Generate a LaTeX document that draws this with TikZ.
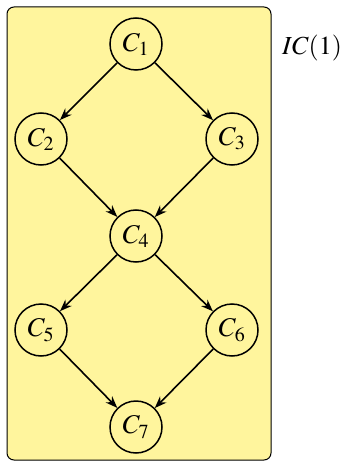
\documentclass[tikz,border=0pt]{standalone}
\usepackage{mathptmx}
\usepackage{xcolor}
\usepackage{tikz}
\usetikzlibrary{arrows.meta}

\definecolor{boxyellow}{HTML}{FFF59D}

\begin{document}
\begin{tikzpicture}[
    cnode/.style={draw, circle, fill=boxyellow, line width=1.5pt,
                  minimum size=52pt, inner sep=0pt,
                  font=\fontsize{27}{32}\selectfont},
    arr/.style={-{Stealth[length=12pt,width=9pt]}, line width=1.6pt},
    x=1pt, y=-1pt
  ]
  \useasboundingbox (0,0) rectangle (349,462);
  % enclosing box
  \draw[fill=boxyellow, rounded corners=7pt, line width=1pt]
    (7,7) rectangle (271,460);
  \node[font=\fontsize{26}{31}\selectfont] (lab) at (312,48) {$IC(1)$};

  % upper diamond
  \node[cnode] (c1) at (136,44) {$C_1$};
  \node[cnode] (c2) at (41,139) {$C_2$};
  \node[cnode] (c3) at (232,139) {$C_3$};
  \node[cnode] (c4) at (136,236) {$C_4$};
  \draw[arr] (c1) -- (c2);
  \draw[arr] (c1) -- (c3);
  \draw[arr] (c2) -- (c4);
  \draw[arr] (c3) -- (c4);

  % lower diamond
  \node[cnode] (c5) at (41,330) {$C_5$};
  \node[cnode] (c6) at (232,330) {$C_6$};
  \node[cnode] (c7) at (136,427) {$C_7$};
  \draw[arr] (c4) -- (c5);
  \draw[arr] (c4) -- (c6);
  \draw[arr] (c5) -- (c7);
  \draw[arr] (c6) -- (c7);
\end{tikzpicture}
\end{document}
